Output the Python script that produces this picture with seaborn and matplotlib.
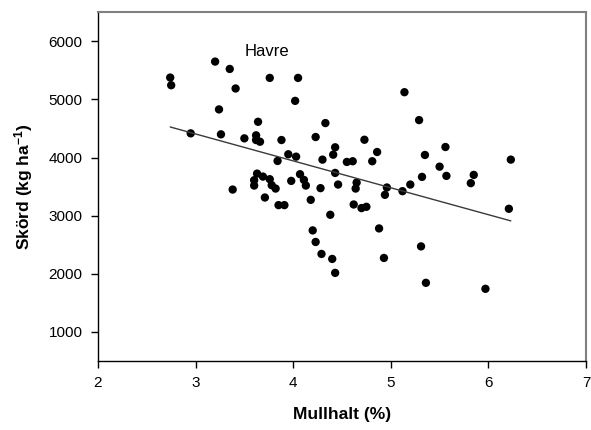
import matplotlib
matplotlib.use("Agg")
import matplotlib.pyplot as plt
import seaborn as sns
import pandas as pd

# ── Data ────────────────────────────────────────────────────────────────────
mullhalt = [
    2.74, 2.75, 3.20, 3.35, 3.41, 3.76, 4.05, 4.02, 3.24, 3.64,
    4.33, 2.95, 3.26, 3.50, 3.62, 3.62, 3.66, 3.88, 4.23, 4.43,
    4.41, 3.95, 4.03, 3.84, 4.30, 4.55, 4.43, 3.63, 3.69, 4.07,
    3.60, 3.60, 3.76, 3.78, 3.82, 3.98, 4.11, 4.13, 4.28, 4.46,
    3.38, 3.71, 3.85, 3.91, 4.18, 4.38, 4.20, 4.23, 4.29, 4.40,
    4.43, 5.14, 5.29, 4.73, 4.86, 4.61, 4.81, 5.35, 5.56, 5.50,
    5.57, 5.32, 5.85, 5.82, 6.23, 6.21, 4.65, 4.64, 4.96, 4.94,
    5.20, 5.12, 4.62, 4.70, 4.75, 4.88, 4.93, 5.31, 5.36, 5.97,
]
skord = [
    5377, 5245, 5652, 5525, 5189, 5371, 5371, 4976, 4829, 4616,
    4594, 4417, 4400, 4331, 4383, 4302, 4273, 4302, 4354, 4177,
    4050, 4057, 4016, 3942, 3965, 3925, 3736, 3724, 3673, 3714,
    3611, 3519, 3628, 3525, 3467, 3599, 3616, 3519, 3474, 3536,
    3450, 3313, 3182, 3182, 3273, 3016, 2747, 2548, 2342, 2256,
    2016, 5125, 4645, 4307, 4096, 3937, 3937, 4045, 4182, 3844,
    3685, 3668, 3702, 3560, 3965, 3119, 3570, 3467, 3485, 3359,
    3536, 3422, 3193, 3131, 3153, 2781, 2273, 2472, 1845, 1742,
]
x_ticks = [2, 3, 4, 5, 6, 7]
y_ticks = [1000, 2000, 3000, 4000, 5000, 6000]

df = pd.DataFrame({"Mullhalt": mullhalt, "Skord": skord})

# ── Styling ─────────────────────────────────────────────────────────────────
sns.set_theme(style="ticks")
plt.rcParams.update({
    "font.family": ["Liberation Sans", "DejaVu Sans"],
    "mathtext.default": "regular",
    "axes.linewidth": 1.0,
})

fig = plt.figure(figsize=(5.91, 4.30), dpi=100)
ax = fig.add_axes([0.1658, 0.1605, 0.8257, 0.8109])

sns.regplot(data=df, x="Mullhalt", y="Skord", ax=ax, ci=None, truncate=True,
            scatter_kws={"s": 36, "color": "black", "edgecolors": "none", "alpha": 1},
            line_kws={"color": "#3a3a3a", "linewidth": 1.0})

ax.set_xlim(2, 7)
ax.set_ylim(500, 6500)
ax.set_xticks(x_ticks)
ax.set_yticks(y_ticks)
ax.tick_params(axis="both", direction="out", length=5, width=1, labelsize=11,
               colors="black", pad=6)

for side in ["top", "right"]:
    ax.spines[side].set_color("#808080")
    ax.spines[side].set_linewidth(1.5)
for side in ["left", "bottom"]:
    ax.spines[side].set_color("black")

ax.set_xlabel("Mullhalt (%)", fontsize=12.5, fontweight="bold", labelpad=12,
              color="black")
ax.set_ylabel("Skörd (kg ha$^{-1}$)", fontsize=12.5, fontweight="bold", labelpad=10,
              color="black")

ax.text(3.73, 5834, "Havre", fontsize=12, ha="center", va="center", color="black")

fig.savefig("out.png", dpi=100)
